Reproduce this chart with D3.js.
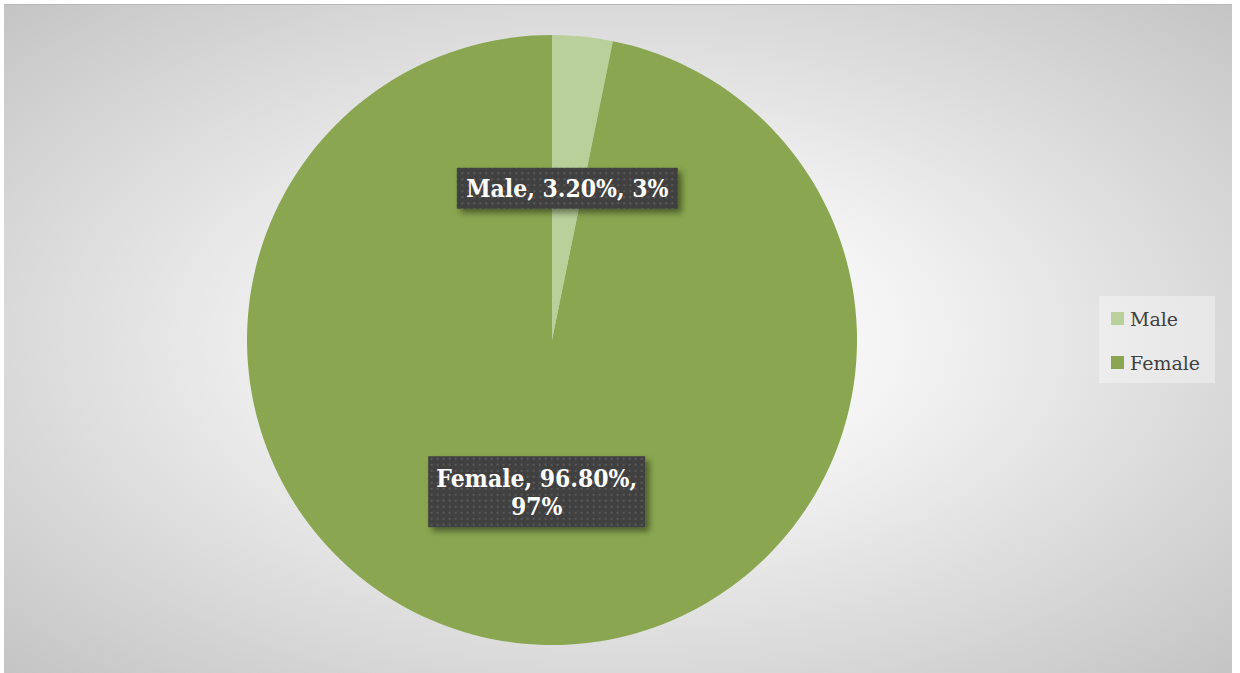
<!DOCTYPE html>
<html>
<head>
<meta charset="utf-8">
<script src="https://cdn.jsdelivr.net/npm/d3@7"></script>
<style>
  body { margin: 0; background: #ffffff; }
  svg { display: block; }
</style>
</head>
<body>
<svg class="chart"></svg>
<script>
var categories = ['Male', 'Female'];
var values = [3.2, 96.8];
var rounded = ['3%', '97%'];
var colorsList = ['#b9d09a', '#8aa650'];

var width = 1240, height = 673;
var cx = 552, cy = 340, radius = 305;

var svg = d3.select(".chart")
    .attr("width", width)
    .attr("height", height);

var defs = svg.append("defs");

var grad = defs.append("radialGradient")
    .attr("id", "bg")
    .attr("cx", "50%").attr("cy", "50%").attr("r", "75%");
grad.append("stop").attr("offset", "0%").attr("stop-color", "#ffffff");
grad.append("stop").attr("offset", "30%").attr("stop-color", "#f4f4f4");
grad.append("stop").attr("offset", "100%").attr("stop-color", "#c0c0c0");

var pat = defs.append("pattern")
    .attr("id", "dots")
    .attr("width", 6).attr("height", 6)
    .attr("patternUnits", "userSpaceOnUse");
pat.append("rect").attr("width", 6).attr("height", 6).attr("fill", "#404040");
pat.append("rect").attr("x", 2).attr("y", 2).attr("width", 2).attr("height", 2).attr("fill", "#595959");

var shadow = defs.append("filter").attr("id", "shadow")
    .attr("x", "-10%").attr("y", "-10%").attr("width", "130%").attr("height", "150%");
shadow.append("feDropShadow")
    .attr("dx", 4).attr("dy", 4).attr("stdDeviation", 3)
    .attr("flood-color", "#000").attr("flood-opacity", 0.45);

// chart area background
svg.append("rect")
    .attr("x", 4).attr("y", 4)
    .attr("width", 1228).attr("height", 669)
    .attr("fill", "url(#bg)");
svg.append("line")
    .attr("x1", 4).attr("x2", 1232).attr("y1", 4.5).attr("y2", 4.5)
    .attr("stroke", "#b8b8b8").attr("stroke-width", 1);

var color = d3.scaleOrdinal().domain(categories).range(colorsList);

var data = categories.map(function(c, i) {
  return { name: c, value: values[i], rounded: rounded[i] };
});

var pie = d3.pie()
    .sort(null)
    .value(function(d) { return d.value; });

var arc = d3.arc().innerRadius(0).outerRadius(radius);

var g = svg.append("g")
    .attr("transform", "translate(" + cx + "," + cy + ")");

var arcs = pie(data);

g.selectAll("path")
    .data(arcs)
  .enter().append("path")
    .attr("d", arc)
    .attr("fill", function(d) { return color(d.data.name); });

// data labels
var labelLines = [
  ["Male, 3.20%, 3%"],
  ["Female, 96.80%,", "97%"]
];
var boxSizes = [[221, 41], [217, 71]];

var lab = g.selectAll("g.lab")
    .data(arcs)
  .enter().append("g")
    .attr("class", "lab")
    .attr("transform", function(d) {
      var c = arc.centroid(d);
      return "translate(" + c[0] + "," + c[1] + ")";
    });

lab.append("rect")
    .attr("x", function(d, i) { return -boxSizes[i][0] / 2; })
    .attr("y", function(d, i) { return -boxSizes[i][1] / 2; })
    .attr("width", function(d, i) { return boxSizes[i][0]; })
    .attr("height", function(d, i) { return boxSizes[i][1]; })
    .attr("fill", "url(#dots)")
    .attr("filter", "url(#shadow)");

lab.each(function(d, i) {
  var lines = labelLines[i];
  var t = d3.select(this).append("text")
      .attr("transform", "scale(0.88,1)")
      .attr("text-anchor", "middle")
      .attr("fill", "#ffffff")
      .attr("font-family", "'DejaVu Serif', serif")
      .attr("font-weight", "bold")
      .attr("font-size", "25px");
  var lh = 28;
  var y0 = -(lines.length - 1) * lh / 2;
  lines.forEach(function(l, j) {
    t.append("tspan")
        .attr("x", 0)
        .attr("y", y0 + j * lh)
        .attr("dy", "0.36em")
        .text(l);
  });
});

// legend
var legend = svg.append("g")
    .attr("transform", "translate(1099,296)");

legend.append("rect")
    .attr("width", 116).attr("height", 87)
    .attr("fill", "#ffffff").attr("fill-opacity", 0.35);

var item = legend.selectAll("g.item")
    .data(categories)
  .enter().append("g")
    .attr("class", "item")
    .attr("transform", function(d, i) { return "translate(12," + (16 + i * 44) + ")"; });

item.append("rect")
    .attr("width", 13).attr("height", 13)
    .attr("fill", function(d) { return color(d); });

item.append("text")
    .attr("x", 19)
    .attr("y", 7)
    .attr("dy", "0.36em")
    .attr("fill", "#404040")
    .attr("font-family", "'DejaVu Serif', serif")
    .attr("font-size", "19px")
    .text(function(d) { return d; });
</script>
</body>
</html>
